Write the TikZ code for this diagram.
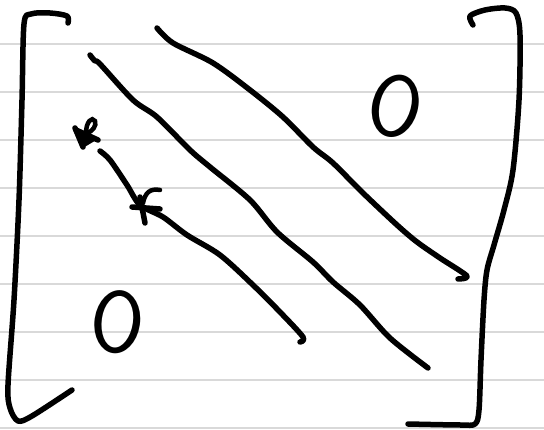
\documentclass[tikz,border=0pt]{standalone}
\usepackage{fontspec}
\begin{document}
\begin{tikzpicture}[x=1pt,y=-1pt,
  ink/.style={line width=5.5pt, line cap=round, line join=round},
  rule/.style={line width=2pt, draw=gray!30},
  zero/.style={inner sep=0pt, font=\ttfamily\fontsize{100}{100}\selectfont}]
\useasboundingbox (0,0) rectangle (544,430);
\fill[white] (0,0) rectangle (544,430);
\foreach \y in {44.5,92.5,140.5,188.5,236.5,284.5,332.5,380.5,428.5}
  \draw[rule] (0,\y) -- (544,\y);
% left bracket
\draw[ink] plot[smooth, tension=0.5] coordinates {(68,23) (67,16) (50,13) (31,14) (24,24) (22,100) (19,200) (14,300) (8,385) (10,408) (18,421) (32,416) (72,390)};
% right bracket
\draw[ink] plot[smooth, tension=0.5] coordinates {(473,25) (470,16) (485,10) (505,8) (516,13) (520,35) (519,100) (513,170) (504,210) (494,245) (487,270) (484,300) (481,360) (479,410) (475,424) (460,425) (408,424)};
% super-diagonal
\draw[ink] plot[smooth, tension=0.5] coordinates {(157,28) (173,43) (213,63) (250,90) (283,117) (313,147) (333,163) (363,193) (397,225) (417,242) (440,258) (467,276) (458,279)};
% main diagonal
\draw[ink] plot[smooth, tension=0.5] coordinates {(90,55) (95,61) (100,64) (133,100) (157,117) (190,150) (210,167) (250,200) (277,232) (313,262) (333,282) (360,305) (390,338) (428,368)};
% sub-diagonal
\draw[ink] plot[smooth, tension=0.5] coordinates {(100,151) (110,160) (127,185) (140,205) (163,217) (187,235) (220,255) (253,285) (280,312) (303,337) (300,342)};
% star mark
\fill (75,128) -- (98,139) -- (83,148) -- cycle;
\draw[ink] (75,128) -- (83,147);
\draw[ink] (76,130) -- (98,140);
\draw[line width=4.5pt, line cap=round] (86,133) .. controls (86,122) and (92,116) .. (95,121) .. controls (97,126) and (92,131) .. (88,133);
% cross mark
\draw[ink] (140,197) -- (145,223);
\draw[ink] (132,207) -- (160,209);
\draw[line width=4.5pt, line cap=round] (143,203) .. controls (145,193) and (150,188) .. (160,190);
% zeros
\node[zero, rotate=-15, xscale=1.1] (z1) at (396,106) {0};
\node[zero, rotate=-8, xscale=1.1] (z2) at (118,322) {0};
\end{tikzpicture}
\end{document}
